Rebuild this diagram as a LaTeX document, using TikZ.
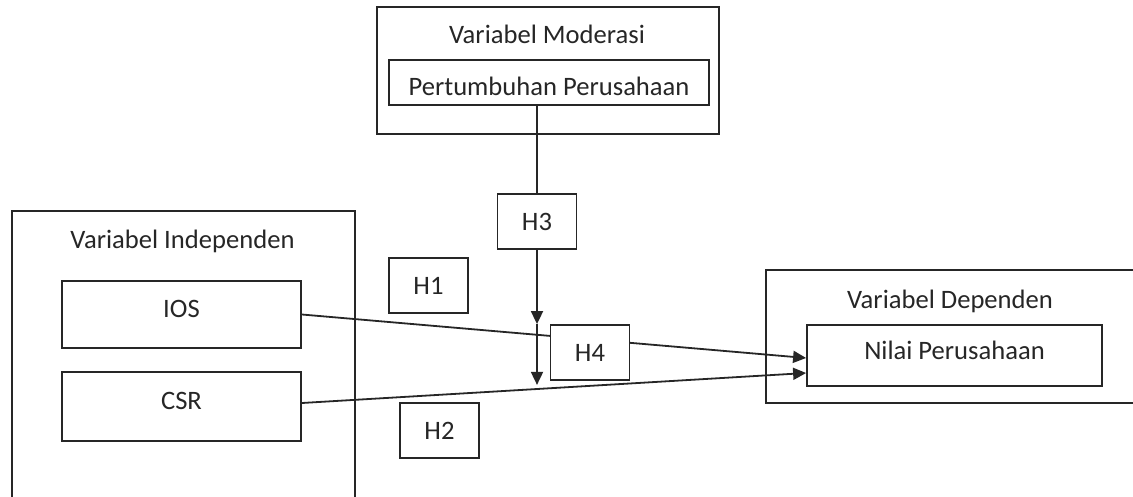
\documentclass[tikz,border=0pt]{standalone}
\usepackage{fontspec}
\setmainfont{Carlito}
\usetikzlibrary{arrows.meta,calc}
\begin{document}
\begin{tikzpicture}[x=0.5pt,y=-0.5pt,line width=0.9pt,
	every node/.style={font=\fontsize{13.3pt}{16pt}\selectfont,text=black!85},
	frame/.style={draw=black!85,inner sep=0pt},
	hbox/.style={frame,minimum width=39.5pt,minimum height=27.5pt,fill=white},
	arr/.style={-{Triangle[length=6.5pt,width=6pt]}}]
	\useasboundingbox (0,0) rectangle (1133,497);
	\clip (0,0) rectangle (1133,497);
	\node[frame,minimum width=171pt,minimum height=63.5pt] (modbox) at (548,70.5) {};
	\node[anchor=base] (modtitle) at (547,44) {Variabel Moderasi};
	\node[frame,minimum width=160pt,minimum height=22.5pt,text height=13.1pt,text depth=0pt] (growth) at (549,82.5) {Pertumbuhan Perusahaan};
	\node[frame,minimum width=171.5pt,minimum height=154.5pt] (indbox) at (183.5,365.5) {};
	\node[anchor=base] (indtitle) at (182.5,248) {Variabel Independen};
	\node[frame,minimum width=119.5pt,minimum height=33.5pt,text height=8.6pt,text depth=6pt] (ios) at (181.5,314.5) {IOS};
	\node[frame,minimum width=119.5pt,minimum height=34.5pt,text height=8.6pt,text depth=6pt] (csr) at (181.5,406.5) {CSR};
	\node[frame,minimum width=189.5pt,minimum height=66.5pt] (depbox) at (955.5,336.5) {};
	\node[anchor=base] (deptitle) at (950,308) {Variabel Dependen};
	\node[frame,minimum width=147.5pt,minimum height=30.5pt,text height=8.6pt,text depth=4.5pt] (nilai) at (954.5,355.5) {Nilai Perusahaan};
	\node[hbox] (h1) at (428.5,285.5) {H1};
	\node[hbox] (h2) at (439.5,430.5) {H2};
	\node[hbox] (h3) at (537,221.5) {H3};
	\draw[draw=black!85] (growth.south -| h3.north) -- (h3.north);
	\draw[draw=black!85,arr] (ios.east) -- ([yshift=-1.25pt]nilai.west);
	\draw[draw=black!85,arr] ([yshift=1.75pt]csr.east) -- ([yshift=-8.75pt]nilai.west);
	\node[hbox] (h4) at (590,352.5) {H4};
	\coordinate (m1) at (h3.south |- h4.north);
	\coordinate (m2) at ($(h3.south |- h4.south)+(0,4)$);
	\draw[draw=black!85,arr] (h3.south) -- (m1);
	\draw[draw=black!85,arr] (m1) -- (m2);
\end{tikzpicture}
\end{document}
